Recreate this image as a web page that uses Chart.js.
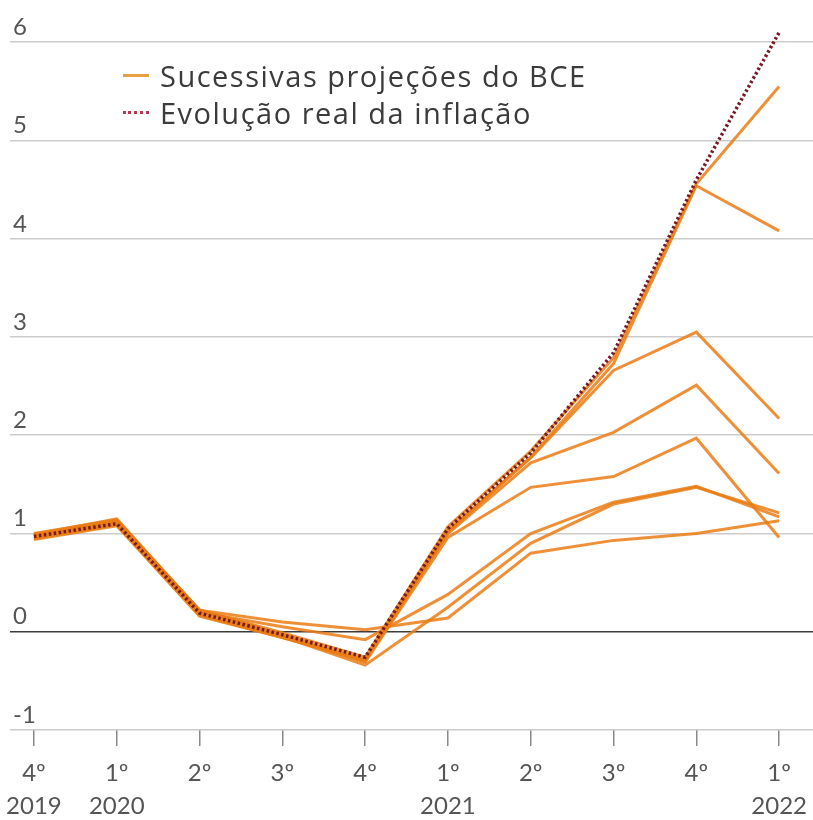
<!DOCTYPE html>
<html>
<head>
<meta charset="utf-8">
<script src="https://cdn.jsdelivr.net/npm/chart.js@4.4.0/dist/chart.umd.min.js"></script>
<style>
    html, body { margin: 0; padding: 0; background: #fff; }
    #wrap { position: relative; width: 813px; height: 820px; }
    #legend {
        position: absolute; left: 123px; top: 57px;
        font-family: "Open Sans", sans-serif; font-size: 29px; color: #3b3b3b;
        letter-spacing: 1.5px; line-height: 37px; white-space: nowrap;
    }
    #legend .item { display: flex; align-items: center; }
    #legend .sym { display: inline-block; width: 26px; margin-right: 11px; }
    #legend .proj { border-top: 3px solid #e9a040; }
    #legend .real { border-top: 3px dotted #b03a55; }
</style>
</head>
<body>
<div id="wrap">
    <canvas id="chart" width="813" height="820"></canvas>
    <div id="legend">
        <div class="item"><span class="sym proj"></span>Sucessivas projeções do BCE</div>
        <div class="item"><span class="sym real"></span>Evolução real da inflação</div>
    </div>
</div>
<script>
// trimestres e anos do eixo horizontal
const quarters = ['4º', '1º', '2º', '3º', '4º', '1º', '2º', '3º', '4º', '1º'];
const years = ['2019', '2020', '', '', '', '2021', '', '', '', '2022'];
const yTicks = [-1, 0, 1, 2, 3, 4, 5, 6];

// evolução real da inflação (%)
const inflacaoReal = [0.97, 1.10, 0.19, -0.03, -0.26, 1.05, 1.82, 2.84, 4.60, 6.10];

// sucessivas projeções do BCE (%)
const projecao1 = [1.00, 1.14, 0.22, -0.01, -0.26, 1.07, 1.84, 2.79, 4.56, 5.55];
const projecao2 = [0.94, 1.08, 0.16, -0.06, -0.30, 1.01, 1.78, 2.73, 4.54, 4.08];
const projecao3 = [0.99, 1.15, 0.21, -0.04, -0.29, 1.03, 1.77, 2.66, 3.05, 2.17];
const projecao4 = [0.95, 1.09, 0.17, -0.06, -0.29, 1.00, 1.72, 2.03, 2.51, 1.61];
const projecao5 = [0.98, 1.13, 0.22, -0.03, -0.31, 0.96, 1.47, 1.58, 1.97, 0.96];
const projecao6 = [0.95, 1.11, 0.18, -0.05, -0.34, 0.25, 0.90, 1.30, 1.47, 1.21];
const projecao7 = [0.97, 1.12, 0.20, 0.05, -0.08, 0.38, 1.00, 1.32, 1.48, 1.17];
const projecao8 = [0.98, 1.13, 0.22, 0.10, 0.02, 0.14, 0.80, 0.93, 1.00, 1.13];

const projecoes = [projecao1, projecao2, projecao3, projecao4, projecao5, projecao6, projecao7, projecao8];

const toPoints = arr => arr.map((v, i) => ({ x: i, y: v }));

const datasets = [{
    label: 'Evolução real da inflação',
    data: toPoints(inflacaoReal),
    borderColor: '#761a24',
    borderWidth: 3.5,
    borderDash: [2.5, 2.5],
    borderCapStyle: 'butt',
    pointRadius: 0,
    tension: 0
}];
projecoes.forEach((p, i) => {
    datasets.push({
        label: 'Projeção ' + (i + 1),
        data: toPoints(p),
        borderColor: 'rgba(234, 124, 20, 0.85)',
        borderWidth: 3,
        borderJoinStyle: 'miter',
        pointRadius: 0,
        tension: 0
    });
});

Chart.defaults.font.family = 'Lato, sans-serif';

new Chart(document.getElementById('chart').getContext('2d'), {
    type: 'line',
    data: { datasets: datasets },
    options: {
        responsive: false,
        animation: false,
        layout: { padding: { left: 4, right: 0, top: 3, bottom: 0 } },
        plugins: { legend: { display: false }, tooltip: { enabled: false } },
        scales: {
            x: {
                type: 'linear',
                min: -0.289,
                max: 9.409,
                afterBuildTicks: axis => { axis.ticks = quarters.map((q, i) => ({ value: i })); },
                afterFit: axis => { axis.paddingLeft = 0; axis.paddingRight = 0; axis.height = 90; },
                grid: { drawOnChartArea: false, drawTicks: true, tickLength: 16, tickColor: '#8a8a8a', lineWidth: 1.5 },
                border: { display: false },
                ticks: {
                    maxRotation: 0,
                    autoSkip: false,
                    padding: 10,
                    color: '#555',
                    font: { size: 24, lineHeight: 1.4 },
                    callback: value => years[value] ? [quarters[value], years[value]] : quarters[value]
                }
            },
            y: {
                min: -1,
                max: 6.4,
                afterBuildTicks: axis => { axis.ticks = yTicks.map(v => ({ value: v })); },
                afterFit: axis => { axis.paddingTop = 0; axis.paddingBottom = 0; },
                grid: {
                    drawTicks: false,
                    color: ctx => ctx.tick && ctx.tick.value === 0 ? '#3c3c3c' : '#cccccc',
                    lineWidth: 1.6
                },
                border: { display: false },
                ticks: {
                    mirror: true,
                    padding: 3,
                    labelOffset: -15,
                    color: '#555',
                    font: { size: 24 }
                }
            }
        }
    }
});
</script>
</body>
</html>
